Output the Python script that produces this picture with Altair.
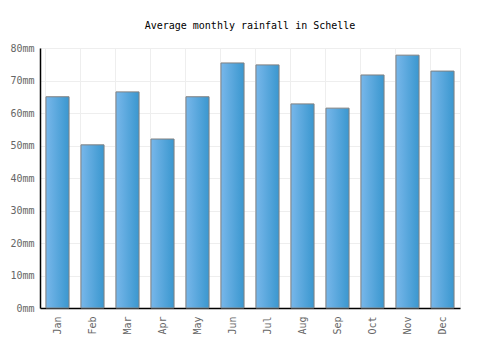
import altair as alt
import pandas as pd

months = ["Jan", "Feb", "Mar", "Apr", "May", "Jun", "Jul", "Aug", "Sep", "Oct", "Nov", "Dec"]
rainfall = [65, 50.2, 66.5, 52, 65, 75.4, 74.8, 62.8, 61.5, 71.7, 77.8, 72.9]

df = pd.DataFrame({"month": months, "rain": rainfall})

FONT = "DejaVu Sans Mono"

chart = alt.Chart(df).mark_bar(
    color=alt.Gradient(
        gradient="linear",
        stops=[alt.GradientStop(color="#78b7ea", offset=0),
               alt.GradientStop(color="#3a97cf", offset=1)],
        x1=0, x2=1, y1=0, y2=0,
    ),
    stroke="#808080",
    strokeWidth=1,
).encode(
    x=alt.X("month:N", sort=months, title=None,
            scale=alt.Scale(paddingInner=0.34, paddingOuter=0.17),
            axis=alt.Axis(labelAngle=270, labelAlign="right", labelBaseline="middle",
                          grid=True, bandPosition=0, ticks=False, labelPadding=8,
                          gridColor="#eeeeee", domainColor="#000000", domainWidth=1.5,
                          labelColor="#666666", labelFont=FONT, labelFontSize=10)),
    y=alt.Y("rain:Q", title=None,
            scale=alt.Scale(domain=[0, 80]),
            axis=alt.Axis(values=[0, 10, 20, 30, 40, 50, 60, 70, 80], labelExpr="datum.value + 'mm'",
                          ticks=False, labelPadding=6, gridColor="#eeeeee",
                          domainColor="#000000", domainWidth=1.5,
                          labelColor="#666666", labelFont=FONT, labelFontSize=10)),
).properties(
    width=420, height=260,
    title=alt.TitleParams("Average monthly rainfall in Schelle", font=FONT, fontSize=10,
                          fontWeight="normal", color="#000000", offset=12),
    autosize=alt.AutoSizeParams(type="none"),
    padding={"left": 40, "top": 48, "right": 40, "bottom": 42},
).configure_view(stroke="#eeeeee")

chart.save("out.html", embed_options={"renderer": "svg", "actions": False})
